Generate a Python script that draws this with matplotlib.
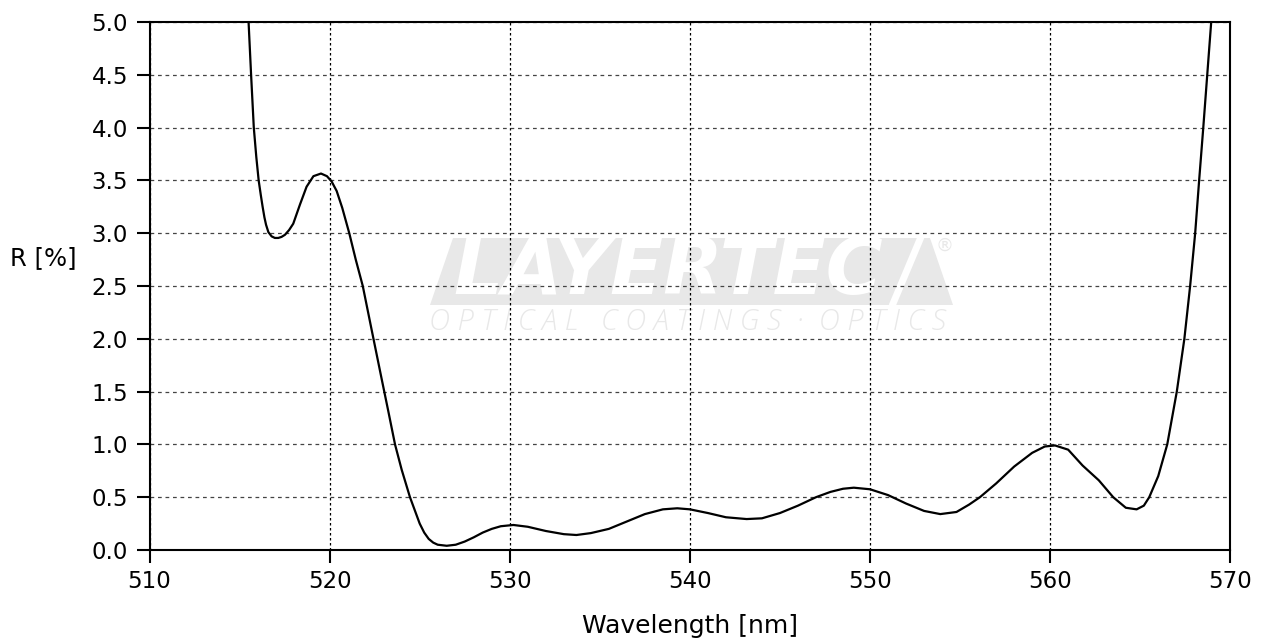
import matplotlib
matplotlib.use("Agg")
import matplotlib.pyplot as plt
from matplotlib.patches import Polygon

plt.rcParams['font.family'] = ['DejaVu Sans']

wavelength = [515.30, 515.50, 515.64, 515.79, 515.93, 516.06, 516.18, 516.28, 516.38, 516.47,
              516.60, 516.78, 516.96, 517.15, 517.33, 517.52, 517.75, 517.98, 518.35, 518.72,
              519.10, 519.52, 519.85, 520.11, 520.39, 520.70, 521.09, 521.45, 521.84, 522.35,
              522.9, 523.25, 523.63, 524.0, 524.46, 525.0, 525.25, 525.5, 525.75, 526.0,
              526.5, 527.0, 527.5, 528.0, 528.5, 529.0, 529.5, 530.2, 531.0, 532.0,
              533.0, 533.7, 534.5, 535.5, 536.5, 537.5, 538.5, 539.3, 540.0, 541.0,
              542.0, 543.15, 544.0, 545.0, 546.0, 547.0, 547.8, 548.5, 549.1, 550.0, 551.0,
              552.0, 553.0, 553.9, 554.8, 555.5, 556.1, 557.0, 558.0, 559.0, 559.7,
              560.27, 561.0, 561.8, 562.7, 563.5, 564.2, 564.8, 565.2, 565.5, 566.0,
              566.5, 567.03, 567.45, 567.77, 568.05, 568.27, 568.5, 568.72, 568.94, 569.1]
reflectance = [5.60, 5.00, 4.50, 4.00, 3.72, 3.50, 3.36, 3.25, 3.15, 3.08,
               3.01, 2.97, 2.955, 2.955, 2.965, 2.985, 3.03, 3.09, 3.27, 3.44,
               3.54, 3.565, 3.54, 3.49, 3.40, 3.24, 3.00, 2.75, 2.50, 2.07,
               1.61, 1.32, 1.00, 0.76, 0.50, 0.25, 0.165, 0.105, 0.07, 0.05,
               0.04, 0.05, 0.08, 0.12, 0.165, 0.20, 0.225, 0.237, 0.22, 0.18,
               0.15, 0.142, 0.16, 0.20, 0.27, 0.34, 0.385, 0.395, 0.385, 0.35,
               0.31, 0.293, 0.30, 0.35, 0.42, 0.50, 0.55, 0.58, 0.59, 0.575, 0.52,
               0.44, 0.37, 0.34, 0.36, 0.43, 0.50, 0.63, 0.79, 0.92, 0.98,
               0.99, 0.95, 0.80, 0.66, 0.50, 0.40, 0.385, 0.42, 0.50, 0.70,
               1.00, 1.50, 2.00, 2.50, 3.00, 3.50, 4.00, 4.50, 5.00, 5.40]

x_ticks = [510, 520, 530, 540, 550, 560, 570]
y_ticks = [0.0, 0.5, 1.0, 1.5, 2.0, 2.5, 3.0, 3.5, 4.0, 4.5, 5.0]

W, H = 1269, 639
fig = plt.figure(figsize=(W / 100, H / 100), dpi=100)
ax = fig.add_axes([149.5 / W, 1 - 550 / H, (1230.3 - 149.5) / W, (550 - 22) / H])


def fp(px, py):
    return (px / W, 1 - py / H)


# watermark (logo)
wm = '#e8e8e8'
band = Polygon([fp(430, 305), fp(453, 238), fp(930, 238), fp(953, 305)], closed=True,
               transform=fig.transFigure, facecolor=wm, edgecolor='none', zorder=0.2)
ax.add_patch(band)
ax.text(*fp(668, 272), 'LAYERTEC', transform=fig.transFigure, fontsize=56,
        fontweight='bold', fontstyle='italic', color='white', ha='center', va='center',
        zorder=0.3)
ax.plot(*zip(fp(892, 306), fp(921, 237)), transform=fig.transFigure, color='white',
        linewidth=5, zorder=0.3, solid_capstyle='butt')
ax.text(*fp(944, 246), '®', transform=fig.transFigure, fontsize=13, color=wm,
        ha='center', va='center', zorder=0.3)
ax.text(*fp(688, 322), 'O P T I C A L   C O A T I N G S  ·  O P T I C S',
        transform=fig.transFigure, fontsize=21, fontstyle='italic', fontweight='light',
        color=wm, ha='center', va='center', family=['Open Sans', 'DejaVu Sans'], zorder=0.3)

ax.plot(wavelength, reflectance, color='black', linewidth=1.6, zorder=3)

ax.set_xlim(510, 570)
ax.set_ylim(0, 5.0)
ax.set_xticks(x_ticks)
ax.set_yticks(y_ticks)
ax.set_yticklabels([f'{v:.1f}' for v in y_ticks])

ax.xaxis.grid(True, color='black', linestyle=(0, (2, 2)), linewidth=0.9)
ax.yaxis.grid(True, color='#444444', linestyle=(0, (3, 3)), linewidth=0.9)
ax.set_axisbelow(True)

ax.tick_params(axis='both', direction='out', length=9.5, width=1.5, labelsize=16.5,
               colors='black')
ax.tick_params(axis='x', pad=5)
ax.tick_params(axis='y', pad=6)
for s in ax.spines.values():
    s.set_linewidth(1.5)

fig.text(*fp(10, 258), 'R [%]', fontsize=17.5, ha='left', va='center')
fig.text(*fp(690, 626), 'Wavelength [nm]', fontsize=18, ha='center', va='center')

fig.savefig('out.png', dpi=100)
